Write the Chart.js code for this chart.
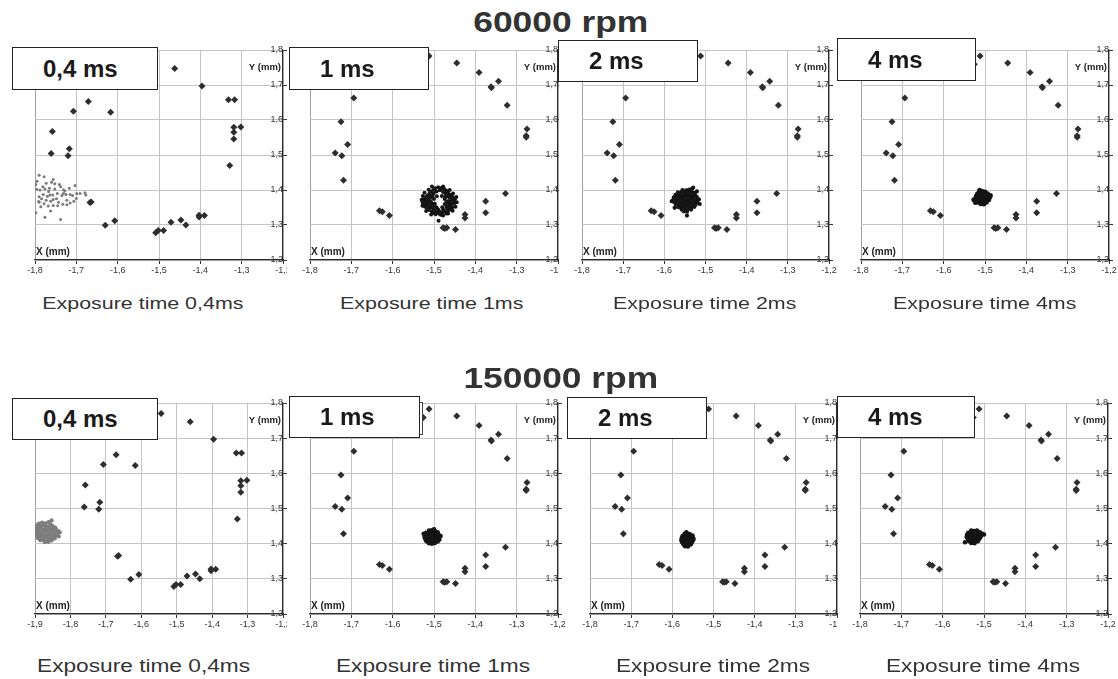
<!DOCTYPE html>
<html><head><meta charset="utf-8">
<script src="https://cdn.jsdelivr.net/npm/chart.js@4.4.0/dist/chart.umd.min.js"></script>
<style>
html,body{margin:0;padding:0;background:#fff;}
#root{position:relative;width:1118px;height:679px;overflow:hidden;background:#fff;font-family:"Liberation Sans",Arial,sans-serif;}
canvas{position:absolute;background:#fff;}
.title{position:absolute;left:2px;width:1118px;text-align:center;font-weight:bold;font-size:29px;line-height:29px;color:#333;white-space:nowrap;}
.title span{display:inline-block;transform:scaleX(1.22);}
.cap{position:absolute;width:300px;text-align:center;color:#333;white-space:nowrap;}
.cap span{display:inline-block;transform:scaleX(1.26);}
.box{position:absolute;background:#fff;border:1px solid #222;box-sizing:border-box;font-weight:bold;font-size:24px;color:#1a1a1a;padding-left:30px;white-space:nowrap;}
.ghost{position:absolute;border:1px solid #444;box-sizing:border-box;background:#fff;}
</style></head>
<body><div id="root"></div>
<script>
// ---------- data ----------
const xTicksA = [-1.8,-1.7,-1.6,-1.5,-1.4,-1.3,-1.2];
const xTicksB = [-1.9,-1.8,-1.7,-1.6,-1.5,-1.4,-1.3,-1.2];
const xLabelsA = ['-1,8','-1,7','-1,6','-1,5','-1,4','-1,3','-1,2'];
const xLabelsB = ['-1,9','-1,8','-1,7','-1,6','-1,5','-1,4','-1,3','-1,2'];
const yTicks = [1.2,1.3,1.4,1.5,1.6,1.7,1.8];
const yLabels = ['1,2','1,3','1,4','1,5','1,6','1,7','1,8'];

const titles = ['60000 rpm','150000 rpm'];
const boxLabels = ['0,4 ms','1 ms','2 ms','4 ms','0,4 ms','1 ms','2 ms','4 ms'];
const captions = ['Exposure time 0,4ms','Exposure time 1ms','Exposure time 2ms','Exposure time 4ms',
                  'Exposure time 0,4ms','Exposure time 1ms','Exposure time 2ms','Exposure time 4ms'];

// reference marks (0,4 ms panels)
const refPointsA = [[-1.544,1.770],[-1.462,1.747],[-1.396,1.697],[-1.332,1.658],[-1.317,1.658],[-1.302,1.580],
 [-1.319,1.579],[-1.319,1.565],[-1.319,1.546],[-1.329,1.470],[-1.707,1.625],[-1.671,1.653],[-1.617,1.622],
 [-1.758,1.567],[-1.761,1.504],[-1.717,1.518],[-1.720,1.498],[-1.667,1.364],[-1.664,1.366],[-1.630,1.299],
 [-1.607,1.312],[-1.508,1.278],[-1.502,1.284],[-1.489,1.284],[-1.471,1.308],[-1.447,1.314],[-1.435,1.300],
 [-1.403,1.328],[-1.403,1.323],[-1.390,1.327]];
// reference marks (1, 2, 4 ms panels)
const refPointsB = [[-1.526,1.759],[-1.512,1.783],[-1.445,1.763],[-1.391,1.736],[-1.344,1.711],[-1.362,1.695],
 [-1.361,1.692],[-1.323,1.642],[-1.275,1.574],[-1.277,1.555],[-1.277,1.551],[-1.694,1.663],[-1.725,1.595],
 [-1.709,1.530],[-1.739,1.506],[-1.723,1.498],[-1.719,1.428],[-1.632,1.341],[-1.625,1.338],[-1.608,1.327],
 [-1.478,1.292],[-1.469,1.292],[-1.474,1.290],[-1.448,1.287],[-1.425,1.330],[-1.425,1.320],[-1.375,1.368],
 [-1.375,1.335],[-1.327,1.390]];

// 60000 rpm clusters
const spot60_04 = [[-1.790,1.442],[-1.778,1.438],[-1.756,1.430],[-1.760,1.422],[-1.773,1.419],[-1.798,1.416],
 [-1.781,1.409],[-1.741,1.416],[-1.738,1.409],[-1.796,1.402],[-1.788,1.400],[-1.776,1.403],[-1.765,1.405],
 [-1.752,1.403],[-1.746,1.390],[-1.757,1.386],[-1.764,1.386],[-1.770,1.382],[-1.780,1.387],[-1.790,1.381],
 [-1.784,1.375],[-1.773,1.371],[-1.762,1.368],[-1.756,1.373],[-1.748,1.375],[-1.735,1.384],[-1.731,1.390],
 [-1.725,1.387],[-1.715,1.387],[-1.717,1.405],[-1.703,1.413],[-1.699,1.390],[-1.691,1.390],[-1.679,1.392],
 [-1.677,1.386],[-1.706,1.368],[-1.715,1.363],[-1.723,1.358],[-1.733,1.359],[-1.756,1.356],[-1.768,1.354],
 [-1.778,1.361],[-1.786,1.352],[-1.762,1.340],[-1.776,1.322],[-1.738,1.316],[-1.709,1.384],[-1.723,1.371],
 [-1.743,1.365],[-1.798,1.335],[-1.791,1.367],[-1.767,1.396],[-1.731,1.401],[-1.795,1.425],[-1.752,1.418],
 [-1.728,1.397],[-1.700,1.376],[-1.745,1.355],[-1.790,1.365]];
const spot60_1 = [[-1.497,1.405],[-1.490,1.408],[-1.482,1.406],[-1.475,1.403],[-1.502,1.400],[-1.486,1.399],
 [-1.470,1.398],[-1.494,1.396],[-1.478,1.394],[-1.508,1.395],[-1.466,1.392],[-1.511,1.389],[-1.501,1.390],
 [-1.472,1.389],[-1.462,1.386],[-1.515,1.385],[-1.519,1.380],[-1.510,1.382],[-1.504,1.384],[-1.523,1.374],
 [-1.514,1.376],[-1.506,1.378],[-1.521,1.368],[-1.512,1.370],[-1.525,1.362],[-1.516,1.363],[-1.507,1.366],
 [-1.520,1.356],[-1.510,1.358],[-1.528,1.366],[-1.503,1.360],[-1.517,1.349],[-1.508,1.351],[-1.512,1.343],
 [-1.502,1.346],[-1.522,1.352],[-1.505,1.338],[-1.497,1.340],[-1.492,1.335],[-1.486,1.338],[-1.480,1.334],
 [-1.474,1.339],[-1.496,1.331],[-1.484,1.329],[-1.470,1.333],[-1.490,1.344],[-1.478,1.344],[-1.466,1.340],
 [-1.500,1.334],[-1.468,1.347],[-1.461,1.344],[-1.463,1.352],[-1.456,1.350],[-1.470,1.352],[-1.465,1.359],
 [-1.457,1.358],[-1.451,1.362],[-1.460,1.365],[-1.452,1.369],[-1.466,1.368],[-1.458,1.372],[-1.449,1.374],
 [-1.463,1.378],[-1.455,1.380],[-1.468,1.383],[-1.459,1.386],[-1.473,1.380],[-1.489,1.312],[-1.499,1.402],
 [-1.484,1.403],[-1.516,1.371],[-1.514,1.355],[-1.488,1.333],[-1.462,1.356],[-1.455,1.376],
 [-1.500,1.374],[-1.498,1.361],[-1.493,1.382],[-1.481,1.383],[-1.474,1.374],[-1.474,1.360],[-1.480,1.351],
 [-1.494,1.351],[-1.501,1.355],[-1.470,1.366],[-1.530,1.372],[-1.527,1.383],[-1.523,1.392],[-1.513,1.401],
 [-1.505,1.410],[-1.478,1.410],[-1.462,1.400],[-1.454,1.390],[-1.446,1.380],[-1.445,1.365],[-1.448,1.352],
 [-1.455,1.341],[-1.466,1.333],[-1.478,1.327],[-1.507,1.330],[-1.519,1.340],[-1.528,1.355]];
const spot60_2 = [[-1.556,1.400],[-1.547,1.399],[-1.540,1.401],[-1.533,1.403],[-1.567,1.393],[-1.559,1.394],
 [-1.551,1.392],[-1.543,1.393],[-1.535,1.394],[-1.528,1.392],[-1.573,1.386],[-1.565,1.387],[-1.557,1.385],
 [-1.549,1.386],[-1.541,1.387],[-1.533,1.385],[-1.525,1.386],[-1.577,1.379],[-1.569,1.380],[-1.561,1.378],
 [-1.553,1.379],[-1.545,1.380],[-1.537,1.378],[-1.529,1.379],[-1.521,1.380],[-1.578,1.372],[-1.570,1.371],
 [-1.562,1.373],[-1.554,1.372],[-1.546,1.371],[-1.538,1.373],[-1.530,1.372],[-1.522,1.371],[-1.516,1.373],
 [-1.576,1.365],[-1.568,1.366],[-1.560,1.364],[-1.552,1.365],[-1.544,1.366],[-1.536,1.364],[-1.528,1.365],
 [-1.520,1.366],[-1.572,1.358],[-1.564,1.357],[-1.556,1.359],[-1.548,1.358],[-1.540,1.357],[-1.532,1.359],
 [-1.524,1.358],[-1.566,1.351],[-1.558,1.350],[-1.550,1.352],[-1.542,1.351],[-1.534,1.350],[-1.527,1.352],
 [-1.558,1.344],[-1.550,1.343],[-1.542,1.345],[-1.535,1.344],[-1.553,1.339],[-1.545,1.338],[-1.545,1.327],
 [-1.582,1.368],[-1.530,1.407],[-1.514,1.360],[-1.575,1.349],[-1.521,1.396]];
const spot60_4 = [[-1.512,1.395],[-1.506,1.396],[-1.500,1.394],[-1.518,1.389],[-1.512,1.390],[-1.506,1.389],
 [-1.500,1.388],[-1.494,1.389],[-1.521,1.383],[-1.515,1.384],[-1.509,1.382],[-1.503,1.383],[-1.497,1.384],
 [-1.491,1.382],[-1.522,1.377],[-1.516,1.378],[-1.510,1.376],[-1.504,1.377],[-1.498,1.378],[-1.492,1.376],
 [-1.489,1.379],[-1.520,1.371],[-1.514,1.370],[-1.508,1.372],[-1.502,1.371],[-1.496,1.370],[-1.491,1.372],
 [-1.515,1.365],[-1.509,1.366],[-1.503,1.364],[-1.497,1.365],[-1.510,1.361],[-1.503,1.360],[-1.527,1.372],
 [-1.523,1.364],[-1.513,1.399],[-1.487,1.384]];

// 150000 rpm clusters
const spot150_04 = [[-1.897,1.452],[-1.889,1.457],[-1.880,1.460],[-1.871,1.458],[-1.862,1.461],[-1.853,1.466],
 [-1.856,1.455],[-1.899,1.444],[-1.891,1.447],[-1.884,1.450],[-1.876,1.451],[-1.867,1.449],[-1.859,1.448],
 [-1.850,1.450],[-1.843,1.446],[-1.898,1.437],[-1.890,1.440],[-1.882,1.442],[-1.873,1.441],[-1.865,1.443],
 [-1.857,1.440],[-1.848,1.442],[-1.840,1.439],[-1.834,1.436],[-1.899,1.430],[-1.892,1.432],[-1.885,1.434],
 [-1.877,1.433],[-1.869,1.435],[-1.861,1.432],[-1.853,1.434],[-1.845,1.431],[-1.837,1.429],[-1.830,1.432],
 [-1.896,1.423],[-1.888,1.425],[-1.880,1.426],[-1.872,1.424],[-1.864,1.427],[-1.856,1.425],[-1.848,1.423],
 [-1.840,1.424],[-1.833,1.421],[-1.892,1.416],[-1.884,1.418],[-1.876,1.417],[-1.868,1.419],[-1.860,1.416],
 [-1.852,1.418],[-1.844,1.415],[-1.885,1.410],[-1.877,1.411],[-1.869,1.408],[-1.861,1.410],[-1.853,1.409],
 [-1.872,1.404],[-1.862,1.405]];
const spot150_1 = [[-1.512,1.437],[-1.505,1.438],[-1.498,1.436],[-1.519,1.431],[-1.512,1.432],[-1.505,1.430],
 [-1.498,1.431],[-1.491,1.432],[-1.522,1.425],[-1.515,1.426],[-1.508,1.424],[-1.501,1.425],[-1.494,1.426],
 [-1.488,1.424],[-1.523,1.419],[-1.516,1.418],[-1.509,1.420],[-1.502,1.419],[-1.495,1.418],[-1.488,1.420],
 [-1.521,1.413],[-1.514,1.414],[-1.507,1.412],[-1.500,1.413],[-1.493,1.414],[-1.487,1.412],[-1.518,1.407],
 [-1.511,1.406],[-1.504,1.408],[-1.497,1.407],[-1.491,1.406],[-1.512,1.401],[-1.505,1.400],[-1.498,1.402],
 [-1.525,1.428],[-1.484,1.422],[-1.500,1.441]];
const spot150_2 = [[-1.570,1.428],[-1.564,1.429],[-1.558,1.427],[-1.575,1.422],[-1.569,1.423],[-1.563,1.421],
 [-1.557,1.422],[-1.551,1.423],[-1.577,1.416],[-1.571,1.417],[-1.565,1.415],[-1.559,1.416],[-1.553,1.417],
 [-1.549,1.415],[-1.578,1.410],[-1.572,1.409],[-1.566,1.411],[-1.560,1.410],[-1.554,1.409],[-1.549,1.411],
 [-1.576,1.404],[-1.570,1.405],[-1.564,1.403],[-1.558,1.404],[-1.552,1.405],[-1.573,1.398],[-1.567,1.399],
 [-1.561,1.397],[-1.555,1.398],[-1.569,1.393],[-1.562,1.392],[-1.566,1.432]];
const spot150_4 = [[-1.531,1.437],[-1.524,1.436],[-1.517,1.437],[-1.538,1.431],[-1.531,1.432],[-1.524,1.430],
 [-1.517,1.431],[-1.510,1.432],[-1.541,1.425],[-1.534,1.426],[-1.527,1.424],[-1.520,1.425],[-1.513,1.426],
 [-1.506,1.425],[-1.500,1.426],[-1.542,1.419],[-1.535,1.418],[-1.528,1.420],[-1.521,1.419],[-1.514,1.418],
 [-1.508,1.420],[-1.539,1.413],[-1.532,1.414],[-1.525,1.412],[-1.518,1.413],[-1.511,1.414],[-1.536,1.407],
 [-1.529,1.408],[-1.522,1.406],[-1.515,1.407],[-1.531,1.402],[-1.523,1.401],[-1.546,1.404],[-1.504,1.428]];

// ---------- layout ----------
const root = document.getElementById('root');
Chart.defaults.font.family = '"Liberation Sans", Arial, sans-serif';

const panels = [
 {left:10,  top:40,  w:277, h:240, pl:25, pr:4,  pt:10, ticks:xTicksA, labels:xLabelsA, min:-1.8, refs:refPointsA, spot:spot60_04, dotR:1.5, dotC:'#7a7a7a'},
 {left:287, top:40,  w:279, h:240, pl:23, pr:8,  pt:10, ticks:xTicksA, labels:xLabelsA, min:-1.8, refs:refPointsB, spot:spot60_1, dotR:2.0, dotC:'#141414'},
 {left:559, top:40,  w:286, h:240, pl:23, pr:16, pt:10, ticks:xTicksA, labels:xLabelsA, min:-1.8, refs:refPointsB, spot:spot60_2, dotR:2.1, dotC:'#141414'},
 {left:838, top:40,  w:280, h:240, pl:23, pr:9,  pt:10, ticks:xTicksA, labels:xLabelsA, min:-1.8, refs:refPointsB, spot:spot60_4, dotR:2.5, dotC:'#141414'},
 {left:10,  top:393, w:277, h:241, pl:25, pr:4,  pt:10, ticks:xTicksB, labels:xLabelsB, min:-1.9, refs:refPointsA, spot:spot150_04, dotR:2.1, dotC:'#7d7d7d'},
 {left:287, top:393, w:283, h:241, pl:23, pr:12, pt:10, ticks:xTicksA, labels:xLabelsA, min:-1.8, refs:refPointsB, spot:spot150_1, dotR:2.3, dotC:'#141414'},
 {left:566, top:393, w:279, h:241, pl:24, pr:8,  pt:10, ticks:xTicksA, labels:xLabelsA, min:-1.8, refs:refPointsB, spot:spot150_2, dotR:2.3, dotC:'#141414'},
 {left:838, top:393, w:280, h:241, pl:22, pr:10, pt:10, ticks:xTicksA, labels:xLabelsA, min:-1.8, refs:refPointsB, spot:spot150_4, dotR:2.3, dotC:'#141414'}
];

const axisNames = {
  id:'axisNames',
  afterDraw(chart){
    const ctx = chart.ctx, ca = chart.chartArea;
    ctx.save();
    ctx.fillStyle = '#222';
    ctx.textBaseline = 'middle';
    ctx.textAlign = 'right';
    ctx.font = 'bold 9.5px "Liberation Sans", Arial, sans-serif';
    ctx.fillText('Y (mm)', ca.right - 2, ca.top + 17);
    ctx.textAlign = 'left';
    ctx.font = 'bold 10px "Liberation Sans", Arial, sans-serif';
    ctx.fillText('X (mm)', ca.left + 1, ca.bottom - 8);
    ctx.restore();
  }
};

const toXY = arr => arr.map(p => ({x:p[0], y:p[1]}));
const gridCol = c => (c.index === 0 ? '#a0a0a0' : '#c4c4c4');

panels.forEach(p => {
  const c = document.createElement('canvas');
  c.width = p.w; c.height = p.h;
  c.style.left = p.left + 'px'; c.style.top = p.top + 'px';
  c.style.width = p.w + 'px'; c.style.height = p.h + 'px';
  root.appendChild(c);
  new Chart(c, {
    type:'scatter',
    data:{datasets:[
      {data:toXY(p.spot), pointStyle:'circle', pointRadius:p.dotR, pointHoverRadius:p.dotR, backgroundColor:p.dotC, borderWidth:0, order:2},
      {data:toXY(p.refs), pointStyle:'rectRot', pointRadius:3.5, pointHoverRadius:3.5, backgroundColor:'#2e2e2e', borderWidth:0, order:1}
    ]},
    options:{
      responsive:false, animation:false, events:[],
      layout:{padding:{left:p.pl, right:p.pr, top:p.pt, bottom:0}},
      plugins:{legend:{display:false}, tooltip:{enabled:false}},
      scales:{
        x:{type:'linear', min:p.min, max:-1.2,
           afterBuildTicks:s => { s.ticks = p.ticks.map(v => ({value:v})); },
           ticks:{autoSkip:false, maxRotation:0, padding:1, color:'#333', font:{size:9},
                  callback:(v,i) => p.labels[i]},
           grid:{color:gridCol, lineWidth:1, tickColor:'#333', tickLength:4},
           border:{display:true, color:'#2a2a2a', width:1.3},
           afterFit:s => { s.height = 20; s.paddingLeft = 0; s.paddingRight = 0; }},
        y:{type:'linear', position:'right', min:1.2, max:1.8,
           afterBuildTicks:s => { s.ticks = yTicks.map(v => ({value:v})); },
           ticks:{mirror:true, padding:0, color:'#333', font:{size:9},
                  callback:(v,i) => yLabels[i]},
           grid:{color:'#c4c4c4', lineWidth:1, tickColor:'#333', tickLength:4},
           border:{display:true, color:'#2a2a2a', width:1.2},
           afterFit:s => { s.width = 0; s.paddingTop = 0; s.paddingBottom = 0; }}
      }
    },
    plugins:[axisNames]
  });
});

// titles
[[titles[0],8],[titles[1],364]].forEach(t => {
  const d = document.createElement('div');
  d.className = 'title'; d.style.top = t[1] + 'px';
  d.innerHTML = '<span></span>'; d.firstChild.textContent = t[0];
  root.appendChild(d);
});

// label boxes
const boxPos = [[12,47,146,43],[289,47,140,43],[558,40,140,42],[837,38,139,43],
                [12,398,146,42],[289,396,131,42],[567,397,140,42],[837,396,138,42]];
const g = document.createElement('div');
g.className = 'ghost';
g.style.cssText = 'left:300px;top:402px;width:123px;height:33px;';
root.appendChild(g);
boxPos.forEach((b,i) => {
  const d = document.createElement('div');
  d.className = 'box';
  d.style.left = b[0]+'px'; d.style.top = b[1]+'px';
  d.style.width = b[2]+'px'; d.style.height = b[3]+'px';
  d.style.lineHeight = (b[3]-2)+'px';
  d.textContent = boxLabels[i];
  root.appendChild(d);
});

// captions
const capCenters = [143,432,705,985,144,433,713,983];
captions.forEach((t,i) => {
  const d = document.createElement('div');
  d.className = 'cap';
  const top = i < 4;
  d.style.left = (capCenters[i]-150)+'px';
  d.style.top = (top ? 295 : 657)+'px';
  d.style.fontSize = (top ? 17 : 18)+'px';
  d.style.lineHeight = (top ? 17 : 18)+'px';
  d.innerHTML = '<span></span>'; d.firstChild.textContent = t;
  root.appendChild(d);
});
</script>
</body></html>
